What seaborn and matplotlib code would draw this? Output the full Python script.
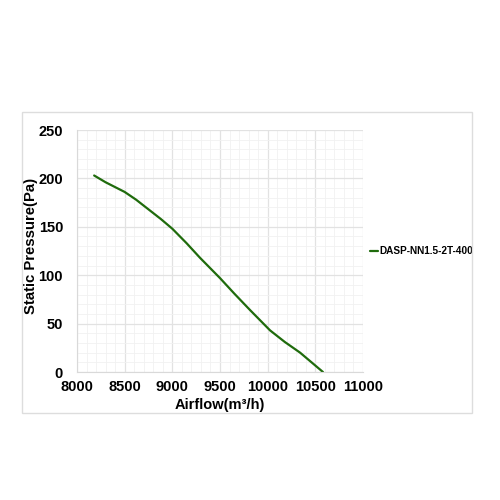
import numpy as np
import pandas as pd
import matplotlib
matplotlib.use("Agg")
import matplotlib.pyplot as plt
from matplotlib.patches import Rectangle
from matplotlib.ticker import MultipleLocator
import seaborn as sns

airflow = [8180, 8300, 8400, 8500, 8620, 8750, 8880, 9000, 9150, 9290, 9400, 9500,
           9650, 9815, 10025, 10180, 10340, 10460, 10580]
pressure = [203, 196, 191, 186, 178, 168, 158, 148, 133, 118, 107, 97,
            81, 64, 43, 31, 20, 10, 0]
series_name = "DASP-NN1.5-2T-400"
x_ticks = [8000, 8500, 9000, 9500, 10000, 10500, 11000]
y_ticks = [0, 50, 100, 150, 200, 250]

df = pd.DataFrame({"Airflow": airflow, "Pressure": pressure, "Model": series_name})

sns.set_style("white")
plt.rcParams['font.family'] = ['Liberation Sans', 'DejaVu Sans']
plt.rcParams['text.color'] = 'black'
plt.rcParams['axes.labelcolor'] = 'black'
plt.rcParams['xtick.color'] = 'black'
plt.rcParams['ytick.color'] = 'black'

fig = plt.figure(figsize=(5, 5), dpi=100)
# outer chart frame
fig.patches.append(Rectangle((0.044, 0.174), 0.9, 0.602, transform=fig.transFigure,
                             fill=False, edgecolor='#dddddd', linewidth=1))
ax = fig.add_axes([0.154, 0.256, 0.572, 0.484])

sns.lineplot(data=df, x="Airflow", y="Pressure", hue="Model", palette=["#1f6b0c"],
             linewidth=1.6, ax=ax)

ax.set_xlim(8000, 11000)
ax.set_ylim(0, 250)
ax.set_xticks(x_ticks)
ax.set_yticks(y_ticks)
ax.xaxis.set_minor_locator(MultipleLocator(100))
ax.yaxis.set_minor_locator(MultipleLocator(10))
ax.grid(which='major', color='#e2e2e2', linewidth=0.9)
ax.grid(which='minor', color='#f1f1f1', linewidth=0.6)
ax.set_axisbelow(True)
for s in ['top', 'right']:
    ax.spines[s].set_visible(False)
for s in ['left', 'bottom']:
    ax.spines[s].set_color('#d9d9d9')
ax.tick_params(axis='both', which='both', length=0, labelsize=10.5)
ax.tick_params(axis='y', pad=10)
ax.tick_params(axis='x', pad=6)
for lbl in ax.get_xticklabels() + ax.get_yticklabels():
    lbl.set_fontweight('bold')

ax.set_xlabel("Airflow(m³/h)", fontsize=10.5, fontweight='bold')
ax.set_ylabel("Static Pressure(Pa)", fontsize=10.7, fontweight='bold')
ax.xaxis.set_label_coords(0.5, -0.107)
ax.yaxis.set_label_coords(-0.136, 0.519)

leg = ax.legend(loc='center left', bbox_to_anchor=(1.0, 0.5), frameon=False,
                handlelength=0.8, handletextpad=0.1, borderaxespad=0.3,
                prop={'weight': 'bold', 'size': 7.2})

fig.savefig("out.png", dpi=100)
